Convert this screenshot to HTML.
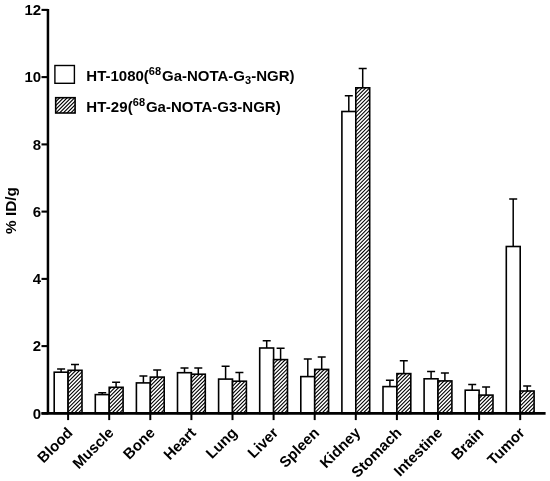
<!DOCTYPE html>
<html><head><meta charset="utf-8"><title>chart</title>
<style>
html,body{margin:0;padding:0;background:#fff;}
svg{display:block;}
text{font-family:"Liberation Sans",Arial,sans-serif;font-weight:bold;fill:#000;}
</style></head><body>
<svg width="550" height="481" viewBox="0 0 550 481">
<defs>
<clipPath id="c0"><rect x="68.10" y="370.30" width="13.90" height="43.10"/></clipPath>
<clipPath id="c1"><rect x="109.20" y="387.30" width="13.90" height="26.10"/></clipPath>
<clipPath id="c2"><rect x="150.30" y="377.10" width="13.90" height="36.30"/></clipPath>
<clipPath id="c3"><rect x="191.40" y="374.20" width="13.90" height="39.20"/></clipPath>
<clipPath id="c4"><rect x="232.50" y="381.20" width="13.90" height="32.20"/></clipPath>
<clipPath id="c5"><rect x="273.60" y="359.60" width="13.90" height="53.80"/></clipPath>
<clipPath id="c6"><rect x="314.70" y="369.40" width="13.90" height="44.00"/></clipPath>
<clipPath id="c7"><rect x="355.80" y="87.80" width="13.90" height="325.60"/></clipPath>
<clipPath id="c8"><rect x="396.90" y="373.60" width="13.90" height="39.80"/></clipPath>
<clipPath id="c9"><rect x="438.00" y="380.90" width="13.90" height="32.50"/></clipPath>
<clipPath id="c10"><rect x="479.10" y="395.10" width="13.90" height="18.30"/></clipPath>
<clipPath id="c11"><rect x="520.20" y="391.00" width="13.90" height="22.40"/></clipPath>
<clipPath id="cl"><rect x="55.70" y="97.70" width="19.40" height="15.30"/></clipPath>
</defs>
<rect width="550" height="481" fill="#fff"/>
<path d="M61.1 372.2V369.1M57.1 369.1H65.1" stroke="#000" stroke-width="1.5" fill="none"/>
<path d="M75.0 370.3V364.5M71.0 364.5H79.0" stroke="#000" stroke-width="1.5" fill="none"/>
<rect x="54.2" y="372.2" width="13.9" height="41.2" fill="#fff" stroke="#000" stroke-width="1.6"/>
<rect x="68.1" y="370.3" width="13.9" height="43.1" fill="#fff"/>
<path clip-path="url(#c0)" d="M67.10 364.15L83.00 348.25M67.10 367.90L83.00 352.00M67.10 371.65L83.00 355.75M67.10 375.40L83.00 359.50M67.10 379.15L83.00 363.25M67.10 382.90L83.00 367.00M67.10 386.65L83.00 370.75M67.10 390.40L83.00 374.50M67.10 394.15L83.00 378.25M67.10 397.90L83.00 382.00M67.10 401.65L83.00 385.75M67.10 405.40L83.00 389.50M67.10 409.15L83.00 393.25M67.10 412.90L83.00 397.00M67.10 416.65L83.00 400.75M67.10 420.40L83.00 404.50M67.10 424.15L83.00 408.25M67.10 427.90L83.00 412.00M67.10 431.65L83.00 415.75M67.10 435.40L83.00 419.50" stroke="#000" stroke-width="1.15" fill="none"/>
<rect x="68.1" y="370.3" width="13.9" height="43.1" fill="none" stroke="#000" stroke-width="1.6"/>
<line x1="68.1" y1="413.4" x2="68.1" y2="420.1" stroke="#000" stroke-width="2"/>
<text transform="translate(73.6,433.7) rotate(-45)" text-anchor="end" font-size="15">Blood</text>
<path d="M102.2 394.6V392.8M98.2 392.8H106.2" stroke="#000" stroke-width="1.5" fill="none"/>
<path d="M116.1 387.3V382.3M112.1 382.3H120.1" stroke="#000" stroke-width="1.5" fill="none"/>
<rect x="95.3" y="394.6" width="13.9" height="18.8" fill="#fff" stroke="#000" stroke-width="1.6"/>
<rect x="109.2" y="387.3" width="13.9" height="26.1" fill="#fff"/>
<path clip-path="url(#c1)" d="M108.20 383.05L124.10 367.15M108.20 386.80L124.10 370.90M108.20 390.55L124.10 374.65M108.20 394.30L124.10 378.40M108.20 398.05L124.10 382.15M108.20 401.80L124.10 385.90M108.20 405.55L124.10 389.65M108.20 409.30L124.10 393.40M108.20 413.05L124.10 397.15M108.20 416.80L124.10 400.90M108.20 420.55L124.10 404.65M108.20 424.30L124.10 408.40M108.20 428.05L124.10 412.15M108.20 431.80L124.10 415.90M108.20 435.55L124.10 419.65" stroke="#000" stroke-width="1.15" fill="none"/>
<rect x="109.2" y="387.3" width="13.9" height="26.1" fill="none" stroke="#000" stroke-width="1.6"/>
<line x1="109.2" y1="413.4" x2="109.2" y2="420.1" stroke="#000" stroke-width="2"/>
<text transform="translate(114.7,433.7) rotate(-45)" text-anchor="end" font-size="15">Muscle</text>
<path d="M143.4 382.9V376.1M139.4 376.1H147.4" stroke="#000" stroke-width="1.5" fill="none"/>
<path d="M157.2 377.1V370.0M153.2 370.0H161.2" stroke="#000" stroke-width="1.5" fill="none"/>
<rect x="136.4" y="382.9" width="13.9" height="30.5" fill="#fff" stroke="#000" stroke-width="1.6"/>
<rect x="150.3" y="377.1" width="13.9" height="36.3" fill="#fff"/>
<path clip-path="url(#c2)" d="M149.30 371.95L165.20 356.05M149.30 375.70L165.20 359.80M149.30 379.45L165.20 363.55M149.30 383.20L165.20 367.30M149.30 386.95L165.20 371.05M149.30 390.70L165.20 374.80M149.30 394.45L165.20 378.55M149.30 398.20L165.20 382.30M149.30 401.95L165.20 386.05M149.30 405.70L165.20 389.80M149.30 409.45L165.20 393.55M149.30 413.20L165.20 397.30M149.30 416.95L165.20 401.05M149.30 420.70L165.20 404.80M149.30 424.45L165.20 408.55M149.30 428.20L165.20 412.30M149.30 431.95L165.20 416.05M149.30 435.70L165.20 419.80" stroke="#000" stroke-width="1.15" fill="none"/>
<rect x="150.3" y="377.1" width="13.9" height="36.3" fill="none" stroke="#000" stroke-width="1.6"/>
<line x1="150.3" y1="413.4" x2="150.3" y2="420.1" stroke="#000" stroke-width="2"/>
<text transform="translate(155.8,433.7) rotate(-45)" text-anchor="end" font-size="15">Bone</text>
<path d="M184.5 372.7V368.1M180.5 368.1H188.5" stroke="#000" stroke-width="1.5" fill="none"/>
<path d="M198.3 374.2V368.1M194.3 368.1H202.3" stroke="#000" stroke-width="1.5" fill="none"/>
<rect x="177.5" y="372.7" width="13.9" height="40.7" fill="#fff" stroke="#000" stroke-width="1.6"/>
<rect x="191.4" y="374.2" width="13.9" height="39.2" fill="#fff"/>
<path clip-path="url(#c3)" d="M190.40 368.35L206.30 352.45M190.40 372.10L206.30 356.20M190.40 375.85L206.30 359.95M190.40 379.60L206.30 363.70M190.40 383.35L206.30 367.45M190.40 387.10L206.30 371.20M190.40 390.85L206.30 374.95M190.40 394.60L206.30 378.70M190.40 398.35L206.30 382.45M190.40 402.10L206.30 386.20M190.40 405.85L206.30 389.95M190.40 409.60L206.30 393.70M190.40 413.35L206.30 397.45M190.40 417.10L206.30 401.20M190.40 420.85L206.30 404.95M190.40 424.60L206.30 408.70M190.40 428.35L206.30 412.45M190.40 432.10L206.30 416.20" stroke="#000" stroke-width="1.15" fill="none"/>
<rect x="191.4" y="374.2" width="13.9" height="39.2" fill="none" stroke="#000" stroke-width="1.6"/>
<line x1="191.4" y1="413.4" x2="191.4" y2="420.1" stroke="#000" stroke-width="2"/>
<text transform="translate(196.9,433.7) rotate(-45)" text-anchor="end" font-size="15">Heart</text>
<path d="M225.6 379.1V366.3M221.6 366.3H229.6" stroke="#000" stroke-width="1.5" fill="none"/>
<path d="M239.4 381.2V372.4M235.4 372.4H243.4" stroke="#000" stroke-width="1.5" fill="none"/>
<rect x="218.6" y="379.1" width="13.9" height="34.3" fill="#fff" stroke="#000" stroke-width="1.6"/>
<rect x="232.5" y="381.2" width="13.9" height="32.2" fill="#fff"/>
<path clip-path="url(#c4)" d="M231.50 376.00L247.40 360.10M231.50 379.75L247.40 363.85M231.50 383.50L247.40 367.60M231.50 387.25L247.40 371.35M231.50 391.00L247.40 375.10M231.50 394.75L247.40 378.85M231.50 398.50L247.40 382.60M231.50 402.25L247.40 386.35M231.50 406.00L247.40 390.10M231.50 409.75L247.40 393.85M231.50 413.50L247.40 397.60M231.50 417.25L247.40 401.35M231.50 421.00L247.40 405.10M231.50 424.75L247.40 408.85M231.50 428.50L247.40 412.60M231.50 432.25L247.40 416.35" stroke="#000" stroke-width="1.15" fill="none"/>
<rect x="232.5" y="381.2" width="13.9" height="32.2" fill="none" stroke="#000" stroke-width="1.6"/>
<line x1="232.5" y1="413.4" x2="232.5" y2="420.1" stroke="#000" stroke-width="2"/>
<text transform="translate(238.0,433.7) rotate(-45)" text-anchor="end" font-size="15">Lung</text>
<path d="M266.7 348.0V340.8M262.7 340.8H270.7" stroke="#000" stroke-width="1.5" fill="none"/>
<path d="M280.6 359.6V348.3M276.6 348.3H284.6" stroke="#000" stroke-width="1.5" fill="none"/>
<rect x="259.7" y="348.0" width="13.9" height="65.4" fill="#fff" stroke="#000" stroke-width="1.6"/>
<rect x="273.6" y="359.6" width="13.9" height="53.8" fill="#fff"/>
<path clip-path="url(#c5)" d="M272.60 353.65L288.50 337.75M272.60 357.40L288.50 341.50M272.60 361.15L288.50 345.25M272.60 364.90L288.50 349.00M272.60 368.65L288.50 352.75M272.60 372.40L288.50 356.50M272.60 376.15L288.50 360.25M272.60 379.90L288.50 364.00M272.60 383.65L288.50 367.75M272.60 387.40L288.50 371.50M272.60 391.15L288.50 375.25M272.60 394.90L288.50 379.00M272.60 398.65L288.50 382.75M272.60 402.40L288.50 386.50M272.60 406.15L288.50 390.25M272.60 409.90L288.50 394.00M272.60 413.65L288.50 397.75M272.60 417.40L288.50 401.50M272.60 421.15L288.50 405.25M272.60 424.90L288.50 409.00M272.60 428.65L288.50 412.75M272.60 432.40L288.50 416.50" stroke="#000" stroke-width="1.15" fill="none"/>
<rect x="273.6" y="359.6" width="13.9" height="53.8" fill="none" stroke="#000" stroke-width="1.6"/>
<line x1="273.6" y1="413.4" x2="273.6" y2="420.1" stroke="#000" stroke-width="2"/>
<text transform="translate(279.1,433.7) rotate(-45)" text-anchor="end" font-size="15">Liver</text>
<path d="M307.8 376.6V359.1M303.8 359.1H311.8" stroke="#000" stroke-width="1.5" fill="none"/>
<path d="M321.7 369.4V357.0M317.7 357.0H325.7" stroke="#000" stroke-width="1.5" fill="none"/>
<rect x="300.8" y="376.6" width="13.9" height="36.8" fill="#fff" stroke="#000" stroke-width="1.6"/>
<rect x="314.7" y="369.4" width="13.9" height="44.0" fill="#fff"/>
<path clip-path="url(#c6)" d="M313.70 365.05L329.60 349.15M313.70 368.80L329.60 352.90M313.70 372.55L329.60 356.65M313.70 376.30L329.60 360.40M313.70 380.05L329.60 364.15M313.70 383.80L329.60 367.90M313.70 387.55L329.60 371.65M313.70 391.30L329.60 375.40M313.70 395.05L329.60 379.15M313.70 398.80L329.60 382.90M313.70 402.55L329.60 386.65M313.70 406.30L329.60 390.40M313.70 410.05L329.60 394.15M313.70 413.80L329.60 397.90M313.70 417.55L329.60 401.65M313.70 421.30L329.60 405.40M313.70 425.05L329.60 409.15M313.70 428.80L329.60 412.90M313.70 432.55L329.60 416.65" stroke="#000" stroke-width="1.15" fill="none"/>
<rect x="314.7" y="369.4" width="13.9" height="44.0" fill="none" stroke="#000" stroke-width="1.6"/>
<line x1="314.7" y1="413.4" x2="314.7" y2="420.1" stroke="#000" stroke-width="2"/>
<text transform="translate(320.2,433.7) rotate(-45)" text-anchor="end" font-size="15">Spleen</text>
<path d="M348.8 111.5V95.8M344.8 95.8H352.8" stroke="#000" stroke-width="1.5" fill="none"/>
<path d="M362.7 87.8V68.4M358.7 68.4H366.7" stroke="#000" stroke-width="1.5" fill="none"/>
<rect x="341.9" y="111.5" width="13.9" height="301.9" fill="#fff" stroke="#000" stroke-width="1.6"/>
<rect x="355.8" y="87.8" width="13.9" height="325.6" fill="#fff"/>
<path clip-path="url(#c7)" d="M354.80 83.95L370.70 68.05M354.80 87.70L370.70 71.80M354.80 91.45L370.70 75.55M354.80 95.20L370.70 79.30M354.80 98.95L370.70 83.05M354.80 102.70L370.70 86.80M354.80 106.45L370.70 90.55M354.80 110.20L370.70 94.30M354.80 113.95L370.70 98.05M354.80 117.70L370.70 101.80M354.80 121.45L370.70 105.55M354.80 125.20L370.70 109.30M354.80 128.95L370.70 113.05M354.80 132.70L370.70 116.80M354.80 136.45L370.70 120.55M354.80 140.20L370.70 124.30M354.80 143.95L370.70 128.05M354.80 147.70L370.70 131.80M354.80 151.45L370.70 135.55M354.80 155.20L370.70 139.30M354.80 158.95L370.70 143.05M354.80 162.70L370.70 146.80M354.80 166.45L370.70 150.55M354.80 170.20L370.70 154.30M354.80 173.95L370.70 158.05M354.80 177.70L370.70 161.80M354.80 181.45L370.70 165.55M354.80 185.20L370.70 169.30M354.80 188.95L370.70 173.05M354.80 192.70L370.70 176.80M354.80 196.45L370.70 180.55M354.80 200.20L370.70 184.30M354.80 203.95L370.70 188.05M354.80 207.70L370.70 191.80M354.80 211.45L370.70 195.55M354.80 215.20L370.70 199.30M354.80 218.95L370.70 203.05M354.80 222.70L370.70 206.80M354.80 226.45L370.70 210.55M354.80 230.20L370.70 214.30M354.80 233.95L370.70 218.05M354.80 237.70L370.70 221.80M354.80 241.45L370.70 225.55M354.80 245.20L370.70 229.30M354.80 248.95L370.70 233.05M354.80 252.70L370.70 236.80M354.80 256.45L370.70 240.55M354.80 260.20L370.70 244.30M354.80 263.95L370.70 248.05M354.80 267.70L370.70 251.80M354.80 271.45L370.70 255.55M354.80 275.20L370.70 259.30M354.80 278.95L370.70 263.05M354.80 282.70L370.70 266.80M354.80 286.45L370.70 270.55M354.80 290.20L370.70 274.30M354.80 293.95L370.70 278.05M354.80 297.70L370.70 281.80M354.80 301.45L370.70 285.55M354.80 305.20L370.70 289.30M354.80 308.95L370.70 293.05M354.80 312.70L370.70 296.80M354.80 316.45L370.70 300.55M354.80 320.20L370.70 304.30M354.80 323.95L370.70 308.05M354.80 327.70L370.70 311.80M354.80 331.45L370.70 315.55M354.80 335.20L370.70 319.30M354.80 338.95L370.70 323.05M354.80 342.70L370.70 326.80M354.80 346.45L370.70 330.55M354.80 350.20L370.70 334.30M354.80 353.95L370.70 338.05M354.80 357.70L370.70 341.80M354.80 361.45L370.70 345.55M354.80 365.20L370.70 349.30M354.80 368.95L370.70 353.05M354.80 372.70L370.70 356.80M354.80 376.45L370.70 360.55M354.80 380.20L370.70 364.30M354.80 383.95L370.70 368.05M354.80 387.70L370.70 371.80M354.80 391.45L370.70 375.55M354.80 395.20L370.70 379.30M354.80 398.95L370.70 383.05M354.80 402.70L370.70 386.80M354.80 406.45L370.70 390.55M354.80 410.20L370.70 394.30M354.80 413.95L370.70 398.05M354.80 417.70L370.70 401.80M354.80 421.45L370.70 405.55M354.80 425.20L370.70 409.30M354.80 428.95L370.70 413.05M354.80 432.70L370.70 416.80" stroke="#000" stroke-width="1.15" fill="none"/>
<rect x="355.8" y="87.8" width="13.9" height="325.6" fill="none" stroke="#000" stroke-width="1.6"/>
<line x1="355.8" y1="413.4" x2="355.8" y2="420.1" stroke="#000" stroke-width="2"/>
<text transform="translate(361.3,433.7) rotate(-45)" text-anchor="end" font-size="15">Kidney</text>
<path d="M389.9 386.6V380.2M385.9 380.2H393.9" stroke="#000" stroke-width="1.5" fill="none"/>
<path d="M403.8 373.6V360.8M399.8 360.8H407.8" stroke="#000" stroke-width="1.5" fill="none"/>
<rect x="383.0" y="386.6" width="13.9" height="26.8" fill="#fff" stroke="#000" stroke-width="1.6"/>
<rect x="396.9" y="373.6" width="13.9" height="39.8" fill="#fff"/>
<path clip-path="url(#c8)" d="M395.90 369.10L411.80 353.20M395.90 372.85L411.80 356.95M395.90 376.60L411.80 360.70M395.90 380.35L411.80 364.45M395.90 384.10L411.80 368.20M395.90 387.85L411.80 371.95M395.90 391.60L411.80 375.70M395.90 395.35L411.80 379.45M395.90 399.10L411.80 383.20M395.90 402.85L411.80 386.95M395.90 406.60L411.80 390.70M395.90 410.35L411.80 394.45M395.90 414.10L411.80 398.20M395.90 417.85L411.80 401.95M395.90 421.60L411.80 405.70M395.90 425.35L411.80 409.45M395.90 429.10L411.80 413.20M395.90 432.85L411.80 416.95" stroke="#000" stroke-width="1.15" fill="none"/>
<rect x="396.9" y="373.6" width="13.9" height="39.8" fill="none" stroke="#000" stroke-width="1.6"/>
<line x1="396.9" y1="413.4" x2="396.9" y2="420.1" stroke="#000" stroke-width="2"/>
<text transform="translate(402.4,433.7) rotate(-45)" text-anchor="end" font-size="15">Stomach</text>
<path d="M431.1 378.8V371.6M427.1 371.6H435.1" stroke="#000" stroke-width="1.5" fill="none"/>
<path d="M444.9 380.9V372.9M440.9 372.9H448.9" stroke="#000" stroke-width="1.5" fill="none"/>
<rect x="424.1" y="378.8" width="13.9" height="34.6" fill="#fff" stroke="#000" stroke-width="1.6"/>
<rect x="438.0" y="380.9" width="13.9" height="32.5" fill="#fff"/>
<path clip-path="url(#c9)" d="M437.00 376.75L452.90 360.85M437.00 380.50L452.90 364.60M437.00 384.25L452.90 368.35M437.00 388.00L452.90 372.10M437.00 391.75L452.90 375.85M437.00 395.50L452.90 379.60M437.00 399.25L452.90 383.35M437.00 403.00L452.90 387.10M437.00 406.75L452.90 390.85M437.00 410.50L452.90 394.60M437.00 414.25L452.90 398.35M437.00 418.00L452.90 402.10M437.00 421.75L452.90 405.85M437.00 425.50L452.90 409.60M437.00 429.25L452.90 413.35M437.00 433.00L452.90 417.10" stroke="#000" stroke-width="1.15" fill="none"/>
<rect x="438.0" y="380.9" width="13.9" height="32.5" fill="none" stroke="#000" stroke-width="1.6"/>
<line x1="438.0" y1="413.4" x2="438.0" y2="420.1" stroke="#000" stroke-width="2"/>
<text transform="translate(443.5,433.7) rotate(-45)" text-anchor="end" font-size="15">Intestine</text>
<path d="M472.2 390.2V384.6M468.2 384.6H476.2" stroke="#000" stroke-width="1.5" fill="none"/>
<path d="M486.1 395.1V387.0M482.1 387.0H490.1" stroke="#000" stroke-width="1.5" fill="none"/>
<rect x="465.2" y="390.2" width="13.9" height="23.2" fill="#fff" stroke="#000" stroke-width="1.6"/>
<rect x="479.1" y="395.1" width="13.9" height="18.3" fill="#fff"/>
<path clip-path="url(#c10)" d="M478.10 391.90L494.00 376.00M478.10 395.65L494.00 379.75M478.10 399.40L494.00 383.50M478.10 403.15L494.00 387.25M478.10 406.90L494.00 391.00M478.10 410.65L494.00 394.75M478.10 414.40L494.00 398.50M478.10 418.15L494.00 402.25M478.10 421.90L494.00 406.00M478.10 425.65L494.00 409.75M478.10 429.40L494.00 413.50M478.10 433.15L494.00 417.25" stroke="#000" stroke-width="1.15" fill="none"/>
<rect x="479.1" y="395.1" width="13.9" height="18.3" fill="none" stroke="#000" stroke-width="1.6"/>
<line x1="479.1" y1="413.4" x2="479.1" y2="420.1" stroke="#000" stroke-width="2"/>
<text transform="translate(484.6,433.7) rotate(-45)" text-anchor="end" font-size="15">Brain</text>
<path d="M513.2 246.5V199.1M509.2 199.1H517.2" stroke="#000" stroke-width="1.5" fill="none"/>
<path d="M527.2 391.0V385.9M523.2 385.9H531.2" stroke="#000" stroke-width="1.5" fill="none"/>
<rect x="506.3" y="246.5" width="13.9" height="166.9" fill="#fff" stroke="#000" stroke-width="1.6"/>
<rect x="520.2" y="391.0" width="13.9" height="22.4" fill="#fff"/>
<path clip-path="url(#c11)" d="M519.20 384.55L535.10 368.65M519.20 388.30L535.10 372.40M519.20 392.05L535.10 376.15M519.20 395.80L535.10 379.90M519.20 399.55L535.10 383.65M519.20 403.30L535.10 387.40M519.20 407.05L535.10 391.15M519.20 410.80L535.10 394.90M519.20 414.55L535.10 398.65M519.20 418.30L535.10 402.40M519.20 422.05L535.10 406.15M519.20 425.80L535.10 409.90M519.20 429.55L535.10 413.65M519.20 433.30L535.10 417.40" stroke="#000" stroke-width="1.15" fill="none"/>
<rect x="520.2" y="391.0" width="13.9" height="22.4" fill="none" stroke="#000" stroke-width="1.6"/>
<line x1="520.2" y1="413.4" x2="520.2" y2="420.1" stroke="#000" stroke-width="2"/>
<text transform="translate(525.7,433.7) rotate(-45)" text-anchor="end" font-size="15">Tumor</text>
<line x1="47.95" y1="8.9" x2="47.95" y2="414.3" stroke="#000" stroke-width="2.5"/>
<line x1="41.5" y1="413.4" x2="545.6" y2="413.4" stroke="#000" stroke-width="2.6"/>
<line x1="41.5" y1="413.4" x2="47.9" y2="413.4" stroke="#000" stroke-width="2.1"/>
<text x="41.2" y="418.5" text-anchor="end" font-size="15">0</text>
<line x1="41.5" y1="346.1" x2="47.9" y2="346.1" stroke="#000" stroke-width="2.1"/>
<text x="41.2" y="351.2" text-anchor="end" font-size="15">2</text>
<line x1="41.5" y1="278.9" x2="47.9" y2="278.9" stroke="#000" stroke-width="2.1"/>
<text x="41.2" y="284.0" text-anchor="end" font-size="15">4</text>
<line x1="41.5" y1="211.6" x2="47.9" y2="211.6" stroke="#000" stroke-width="2.1"/>
<text x="41.2" y="216.7" text-anchor="end" font-size="15">6</text>
<line x1="41.5" y1="144.4" x2="47.9" y2="144.4" stroke="#000" stroke-width="2.1"/>
<text x="41.2" y="149.5" text-anchor="end" font-size="15">8</text>
<line x1="41.5" y1="77.1" x2="47.9" y2="77.1" stroke="#000" stroke-width="2.1"/>
<text x="41.2" y="82.2" text-anchor="end" font-size="15">10</text>
<line x1="41.5" y1="9.9" x2="47.9" y2="9.9" stroke="#000" stroke-width="2.1"/>
<text x="41.2" y="15.0" text-anchor="end" font-size="15">12</text>
<text transform="translate(16.0,210.6) rotate(-90)" text-anchor="middle" font-size="15.3">% ID/g</text>
<rect x="54.9" y="65.5" width="19.5" height="17.8" fill="#fff" stroke="#000" stroke-width="1.4"/>
<rect x="55.7" y="97.7" width="19.4" height="15.3" fill="#fff"/>
<path clip-path="url(#cl)" d="M54.70 91.55L76.10 70.15M54.70 95.30L76.10 73.90M54.70 99.05L76.10 77.65M54.70 102.80L76.10 81.40M54.70 106.55L76.10 85.15M54.70 110.30L76.10 88.90M54.70 114.05L76.10 92.65M54.70 117.80L76.10 96.40M54.70 121.55L76.10 100.15M54.70 125.30L76.10 103.90M54.70 129.05L76.10 107.65M54.70 132.80L76.10 111.40M54.70 136.55L76.10 115.15M54.70 140.30L76.10 118.90" stroke="#000" stroke-width="1.15" fill="none"/>
<rect x="55.7" y="97.7" width="19.4" height="15.3" fill="none" stroke="#000" stroke-width="1.6"/>
<text x="86.3" y="81.0" font-size="15">HT-1080(<tspan font-size="11" dy="-6.3">68</tspan><tspan dy="6.3" dx="0.9">Ga-NOTA-G</tspan><tspan font-size="11" dy="3">3</tspan><tspan dy="-3">-NGR)</tspan></text>
<text x="86.3" y="111.5" font-size="15"><tspan letter-spacing="0.12">HT-29(</tspan><tspan font-size="11" dy="-5.8">68</tspan><tspan dy="5.8" dx="0.8">Ga-NOTA-G3-NGR)</tspan></text>
</svg></body></html>
